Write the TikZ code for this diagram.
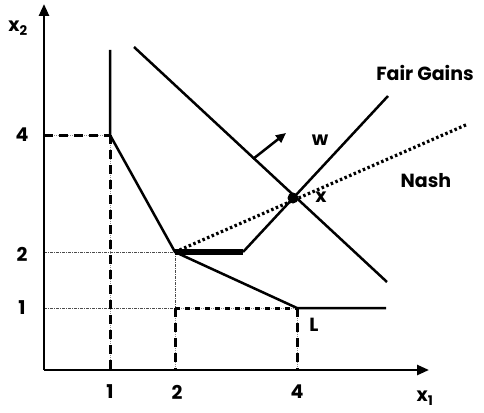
\documentclass[tikz,border=0pt]{standalone}
\usepackage{fontspec}
\setmainfont{Poppins}
\usetikzlibrary{arrows.meta}
\begin{document}
\begin{tikzpicture}[x=1pt,y=-1pt,
  axis/.style={line width=2.5pt,-{Triangle[length=12pt,width=10pt]}},
  curve/.style={line width=2.5pt},
  heavy/.style={line width=5.5pt},
  tdash/.style={preaction={draw,black!45,line width=0.8pt,dash pattern=on 1pt off 1pt},draw,line width=3pt,dash pattern=on 9pt off 6pt},
  sdash/.style={preaction={draw,black!45,line width=0.8pt,dash pattern=on 1pt off 1pt},draw,line width=3pt,dash pattern=on 5pt off 5pt},
  thindot/.style={black!70,line width=0.8pt,dash pattern=on 3pt off 1pt on 1pt off 1pt},
  nash/.style={line width=3.2pt,dash pattern=on 2.5pt off 2.5pt},
  lab/.style={font=\fontsize{19}{19}\selectfont\bfseries},
  every node/.style={inner sep=0pt}]
\useasboundingbox (0,0) rectangle (484,412);
% points
\coordinate (O) at (44,370);
\coordinate (Ytop) at (44,4);
\coordinate (Xend) at (429,370);
\coordinate (A) at (110,50);
\coordinate (B) at (110,135);
\coordinate (C) at (175,252);
\coordinate (D) at (297,308);
\coordinate (E) at (386,308);
\coordinate (W1) at (134,47);
\coordinate (W2) at (387,282);
\coordinate (F1) at (243,252);
\coordinate (F2) at (388,96);
\coordinate (N2) at (468,124);
\coordinate (X) at (293,198);
\coordinate (G1) at (253,159);
\coordinate (G2) at (286,133);
\coordinate (B0) at (110,370);
\coordinate (C1) at (175,308);
\coordinate (C0) at (175,370);
\coordinate (D0) at (297,370);
\coordinate (Y4) at (44,135);
\coordinate (Y2) at (44,252);
\coordinate (Y1) at (44,308);
% guide lines
\draw[thindot] (Y2) -- (C);
\draw[thindot] (Y1) -- (C1);
\draw[thindot] (C) -- (C1);
\draw[tdash] (Y4) -- (B);
\draw[tdash] (B) -- (B0);
\draw[sdash] (C1) -- (D);
\draw[tdash] (C1) -- (C0);
\draw[tdash] (D) -- (D0);
% axes
\draw[axis] (O) -- (Ytop);
\draw[axis] (O) -- (Xend);
% curves
\draw[curve] (A) -- (B) -- (C) -- (D) -- (E);
\draw[curve] (W1) -- (W2);
\draw[line width=2.5pt,-{Triangle[length=10pt,width=9pt]}] (G1) -- (G2);
\draw[nash] (C) -- (N2);
\draw[heavy] (C) -- (F1);
\draw[curve] (F1) -- (F2);
\fill (X) circle (5.5pt);
% labels
\node[lab] (lx2) at (18,28) {x\textsubscript{2}};
\node[lab] (lx1) at (425,398) {x\textsubscript{1}};
\node[lab] (t1) at (110,392) {1};
\node[lab] (t2) at (177,392) {2};
\node[lab] (t4) at (297,392) {4};
\node[lab] (s4) at (22,135) {4};
\node[lab] (s2) at (22,254) {2};
\node[lab] (s1) at (22,308) {1};
\node[lab] (fg) at (425,73) {Fair Gains};
\node[lab] (na) at (426,181) {Nash};
\node[lab] (lw) at (320,140) {w};
\node[lab] (lxx) at (321,197) {x};
\node[lab] (lL) at (314,325) {L};
\end{tikzpicture}
\end{document}
